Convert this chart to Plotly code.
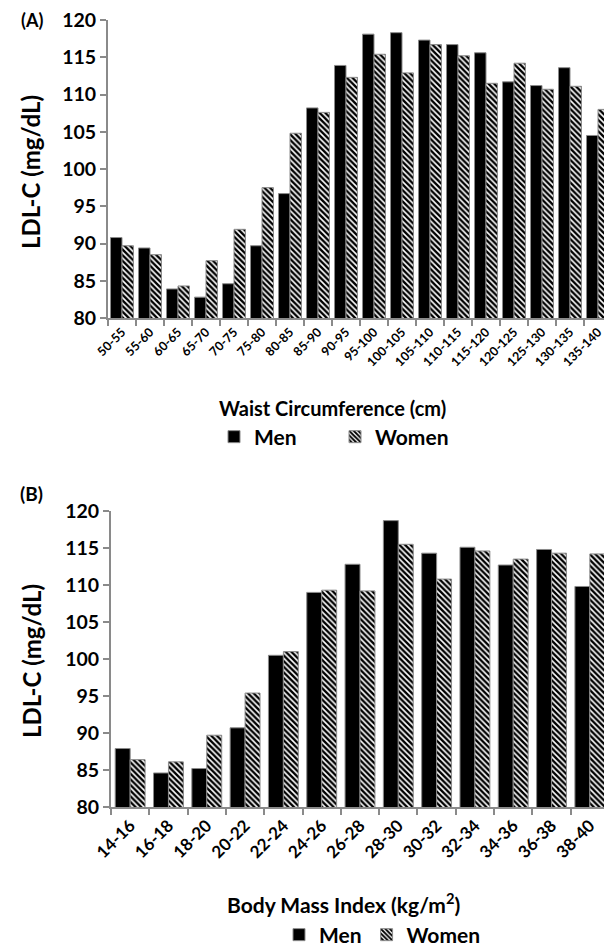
import plotly.graph_objects as go

# Panel A: Waist circumference
waist_cats = ["50-55", "55-60", "60-65", "65-70", "70-75", "75-80", "80-85", "85-90", "90-95",
              "95-100", "100-105", "105-110", "110-115", "115-120", "120-125", "125-130",
              "130-135", "135-140"]
waist_men = [90.8, 89.4, 83.9, 82.8, 84.6, 89.7, 96.7, 108.2, 113.9,
             118.1, 118.3, 117.3, 116.7, 115.6, 111.7, 111.2, 113.6, 104.5]
waist_women = [89.7, 88.5, 84.3, 87.7, 91.9, 97.5, 104.8, 107.6, 112.3,
               115.4, 112.9, 116.7, 115.2, 111.5, 114.2, 110.7, 111.1, 108.0]

# Panel B: BMI
bmi_cats = ["14-16", "16-18", "18-20", "20-22", "22-24", "24-26", "26-28", "28-30",
            "30-32", "32-34", "34-36", "36-38", "38-40"]
bmi_men = [87.9, 84.6, 85.2, 90.7, 100.5, 109.0, 112.8, 118.7, 114.3, 115.1, 112.7, 114.8, 109.8]
bmi_women = [86.4, 86.1, 89.7, 95.4, 101.0, 109.3, 109.2, 115.5, 110.8, 114.6, 113.5, 114.3, 114.2]

y_ticks = [80, 85, 90, 95, 100, 105, 110, 115, 120]

# The page body adds an 8px margin, so the figure is sized/positioned to compensate.
OFF = 8
W, H = 612 - OFF, 950 - OFF
FONT = "Lato"
GRAY = "#8a8a8a"

def px_x(p):
    return (p - OFF) / W

def px_y(p):
    return 1 - (p - OFF) / H

fig = go.Figure()

men_marker = dict(color="black", line=dict(color=GRAY, width=1))
women_marker = dict(color="black",
                    pattern=dict(shape="\\", fgcolor="black", bgcolor="white", size=4, solidity=0.6),
                    line=dict(color=GRAY, width=1))

WA = 0.41
WB = 0.39
fig.add_trace(go.Bar(x=waist_cats, y=waist_men, name="Men", marker=men_marker,
                     width=WA, offset=-WA, xaxis="x", yaxis="y", legend="legend"))
fig.add_trace(go.Bar(x=waist_cats, y=waist_women, name="Women", marker=women_marker,
                     width=WA, offset=0, xaxis="x", yaxis="y", legend="legend"))
fig.add_trace(go.Bar(x=bmi_cats, y=bmi_men, name="Men", marker=men_marker,
                     width=WB, offset=-WB, xaxis="x2", yaxis="y2", legend="legend2"))
fig.add_trace(go.Bar(x=bmi_cats, y=bmi_women, name="Women", marker=women_marker,
                     width=WB, offset=0, xaxis="x2", yaxis="y2", legend="legend2"))

bold = lambda s: dict(family=FONT, size=s, color="black", weight="bold")

yax_common = dict(range=[80, 120], tickvals=y_ticks, showgrid=False, zeroline=False,
                  showline=True, linecolor=GRAY, linewidth=2, ticks="outside", ticklen=6,
                  tickcolor=GRAY, tickwidth=2, tickfont=bold(19.5), fixedrange=True,
                  automargin=False, ticklabeloverflow="allow")
xax_common = dict(type="category", showgrid=False, zeroline=False, showline=True,
                  linecolor=GRAY, linewidth=2, ticks="outside", ticklen=6, tickcolor=GRAY,
                  tickwidth=2, tickson="boundaries", tickangle=-45, fixedrange=True,
                  automargin=False, ticklabeloverflow="allow")

fig.update_layout(
    template="none",
    width=W, height=H, autosize=False,
    margin=dict(l=0, r=0, t=0, b=0, pad=0, autoexpand=False),
    paper_bgcolor="white", plot_bgcolor="white",
    barmode="overlay",
    font=dict(family=FONT, color="black"),
    xaxis=dict(domain=[px_x(108), 1.0], anchor="y", tickfont=bold(12.5), **xax_common),
    yaxis=dict(domain=[px_y(318), px_y(20)], anchor="x", **yax_common),
    xaxis2=dict(domain=[px_x(111), px_x(609)], anchor="y2", tickfont=bold(17), **xax_common),
    yaxis2=dict(domain=[px_y(807), px_y(511)], anchor="x2", **yax_common),
    legend=dict(orientation="h", x=px_x(214), y=px_y(437), xanchor="left", yanchor="middle",
                font=bold(21), entrywidth=76, traceorder="normal", bgcolor="rgba(0,0,0,0)"),
    legend2=dict(orientation="h", x=px_x(279), y=px_y(935), xanchor="left", yanchor="middle",
                 font=bold(21), traceorder="normal", bgcolor="rgba(0,0,0,0)"),
    showlegend=True,
)

annos = [
    dict(text="(A)", x=px_x(19), y=px_y(20), xanchor="left", yanchor="middle", font=bold(18)),
    dict(text="(B)", x=px_x(18), y=px_y(493), xanchor="left", yanchor="middle", font=bold(19)),
    dict(text="LDL-C (mg/dL)", x=px_x(31), y=px_y(172), textangle=-90, xanchor="center",
         yanchor="middle", font=bold(24)),
    dict(text="LDL-C (mg/dL)", x=px_x(31), y=px_y(661), textangle=-90, xanchor="center",
         yanchor="middle", font=bold(24)),
    dict(text="Waist Circumference (cm)", x=px_x(332), y=px_y(408), xanchor="center",
         yanchor="middle", font=bold(20)),
    dict(text="Body Mass Index (kg/m<sup>2</sup>)", x=px_x(343), y=px_y(903), xanchor="center",
         yanchor="middle", font=bold(21)),
]
for a in annos:
    fig.add_annotation(xref="paper", yref="paper", showarrow=False, **a)

fig.write_html("out.html")
